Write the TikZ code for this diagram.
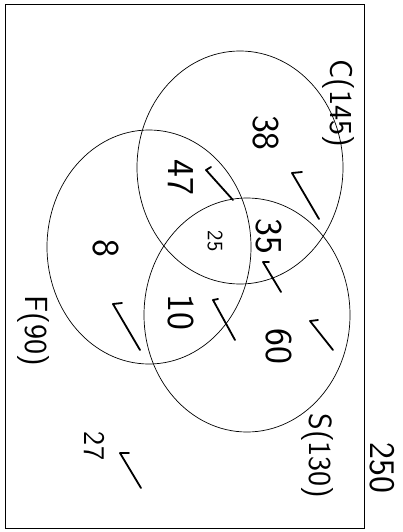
\documentclass[tikz,border=0pt]{standalone}
\begin{document}
\begin{tikzpicture}[x=1pt, y=-1pt, line cap=round,
    setline/.style={black, line width=0.7pt},
    hand/.style={rotate=-90, inner sep=0pt, font=\sffamily\fontsize{38}{40}\selectfont},
    setlabel/.style={rotate=-90, inner sep=0pt, font=\sffamily\fontsize{32}{36}\selectfont},
    tickline/.style={black, line width=1.8pt, line join=round}]
			\useasboundingbox (0,0) rectangle (403,532);
			\draw[black, line width=1pt] (5,5) rectangle (364,528);
			% the three sets
			\draw[setline] (240,167.5) ellipse [x radius=103pt, y radius=116.5pt];
			\draw[setline] (149,247) ellipse [x radius=102pt, y radius=117pt];
			\draw[setline] (247,315) ellipse [x radius=103pt, y radius=117pt];
			\node[setlabel] (labC) at (338,103) {C(145)};
			\node[setlabel] (labF) at (33,331) {F(90)};
			\node[setlabel] (labS) at (317,456) {S(130)};
			\node[setlabel, font=\sffamily\fontsize{36}{40}\selectfont] (total) at (382,468) {250};
			% region counts
			\node[hand] (onlyC) at (266,133) {38};
			\node[hand] (CF) at (181,177) {47};
			\node[hand] (CS) at (269,236) {35};
			\node[hand] (onlyF) at (106,248) {8};
			\node[hand, font=\sffamily\fontsize{22}{24}\selectfont] (CFS) at (215,241) {25};
			\node[hand] (FS) at (181,312) {10};
			\node[hand] (onlyS) at (279,346) {60};
			\node[hand, font=\sffamily\fontsize{30}{32}\selectfont] (none) at (94,446) {27};
			% ticks
			\foreach \vx/\vy/\hx/\hy/\lx/\ly in {292/173/10/-1/27/46, 206/170/5/-3/27/30, 263/262/6/0/18/30, 310/321/8/-1/23/29, 213/300/5/-1/22/40, 113/304/9/-1/27/46, 120/453/9/0/21/35}
				{\draw[tickline] (\vx,\vy) ++(\hx,\hy) -- (\vx,\vy) -- ++(\lx,\ly);}
		\end{tikzpicture}
\end{document}
